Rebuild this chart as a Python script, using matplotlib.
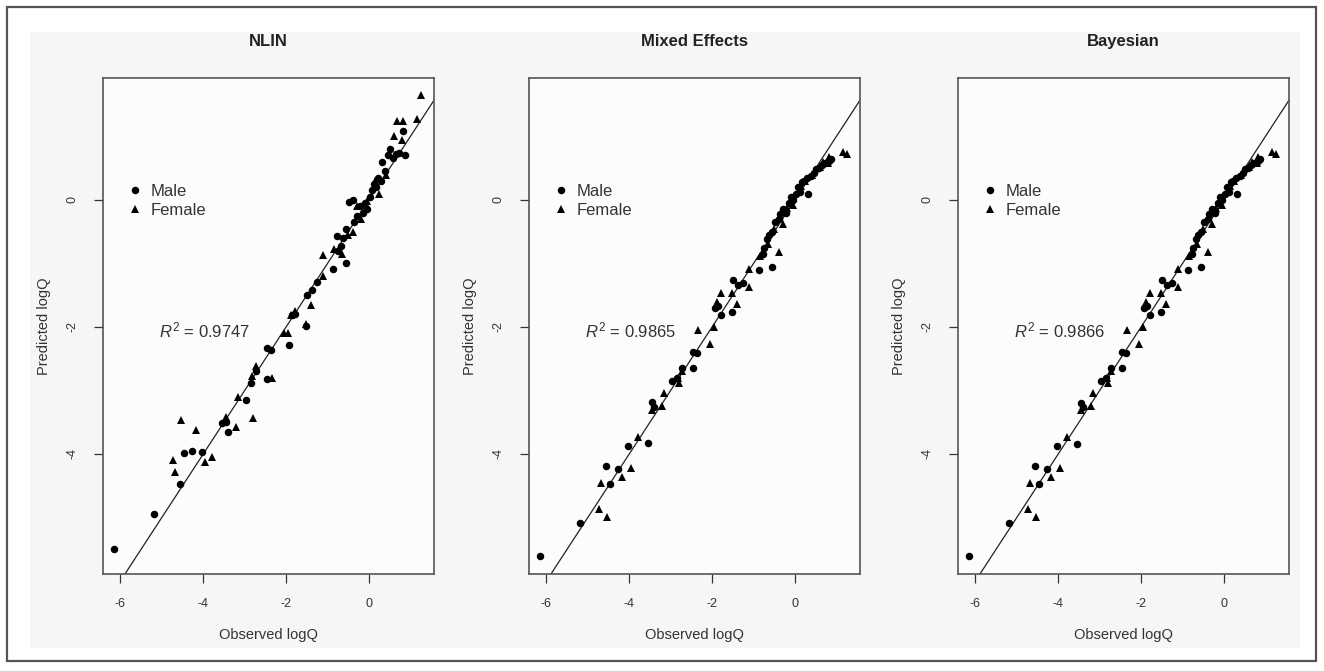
import matplotlib
matplotlib.use('Agg')
import matplotlib.pyplot as plt
from matplotlib.lines import Line2D
from matplotlib.patches import Rectangle

plt.rcParams['font.family'] = ['Liberation Sans', 'DejaVu Sans']
plt.rcParams['axes.unicode_minus'] = False
plt.rcParams['mathtext.fontset'] = 'custom'
plt.rcParams['mathtext.rm'] = 'Liberation Sans'
plt.rcParams['mathtext.it'] = 'Liberation Sans:italic'

titles = ['NLIN', 'Mixed Effects', 'Bayesian']
r2_labels = ['0.9747', '0.9865', '0.9866']
x_ticks = [-6, -4, -2, 0]
y_ticks = [-4, -2, 0]

# ---- Male (circles) ----
male_obs = [-6.15, -5.18, -4.57, -4.46, -4.27, -4.02, -3.55, -3.40, -3.45, -2.96,
            -2.84, -2.73, -2.45, -2.45, -2.36, -1.93, -1.78, -1.85, -1.51, -1.49,
            -1.38, -1.26, -0.86, -0.55, -0.78, -0.75, -0.68, -0.62, -0.55, -0.47,
            -0.39, -0.35, -0.28, -0.22, -0.15, -0.10, -0.05, 0.02, 0.08, 0.12,
            0.18, 0.22, 0.28, 0.32, 0.38, 0.45, 0.51, 0.58, 0.65, 0.72,
            0.81, 0.88]
male_nlin = [-5.49, -4.94, -4.47, -3.99, -3.95, -3.97, -3.52, -3.66, -3.50, -3.15,
             -2.89, -2.70, -2.82, -2.33, -2.36, -2.29, -1.80, -1.81, -1.98, -1.50,
             -1.42, -1.29, -1.08, -0.99, -0.56, -0.80, -0.72, -0.60, -0.45, -0.04,
             0.00, -0.35, -0.25, -0.10, -0.20, -0.05, -0.15, 0.05, 0.15, 0.25,
             0.20, 0.35, 0.30, 0.59, 0.45, 0.70, 0.80, 0.66, 0.72, 0.74,
             1.08, 0.70]
male_mixed = [-5.61, -5.09, -4.19, -4.48, -4.24, -3.87, -3.83, -3.26, -3.18, -2.85,
              -2.81, -2.65, -2.64, -2.40, -2.41, -1.70, -1.81, -1.67, -1.76, -1.26,
              -1.34, -1.31, -1.10, -1.06, -0.85, -0.75, -0.62, -0.55, -0.50, -0.35,
              -0.30, -0.22, -0.15, -0.20, -0.05, 0.05, 0.00, 0.10, 0.20, 0.12,
              0.28, 0.30, 0.35, 0.10, 0.38, 0.42, 0.48, 0.50, 0.55, 0.58,
              0.62, 0.65]
male_bayes = [-5.61, -5.09, -4.19, -4.48, -4.24, -3.87, -3.84, -3.26, -3.20, -2.85,
              -2.81, -2.65, -2.64, -2.40, -2.41, -1.70, -1.81, -1.67, -1.76, -1.26,
              -1.34, -1.31, -1.10, -1.06, -0.85, -0.75, -0.62, -0.55, -0.50, -0.35,
              -0.30, -0.22, -0.15, -0.20, -0.05, 0.05, 0.00, 0.10, 0.20, 0.12,
              0.28, 0.30, 0.35, 0.10, 0.38, 0.42, 0.48, 0.50, 0.55, 0.58,
              0.62, 0.65]

# ---- Female (triangles) ----
female_obs = [-4.73, -4.67, -4.54, -4.17, -3.95, -3.78, -3.45, -3.21, -3.15, -2.80,
              -2.83, -2.72, -2.34, -2.04, -1.95, -1.52, -1.88, -1.40, -1.10, -1.79,
              -1.11, -0.39, 1.26, 1.15, 0.83, 0.67, 0.61, 0.79, 0.40, 0.15,
              -0.05, -0.20, -0.30, -0.50, -0.65, 0.25, -0.85]
female_nlin = [-4.10, -4.29, -3.46, -3.62, -4.12, -4.05, -3.42, -3.58, -3.11, -3.44,
               -2.78, -2.62, -2.81, -2.09, -2.10, -1.95, -1.81, -1.65, -0.87, -1.75,
               -1.20, -0.50, 1.65, 1.28, 1.24, 1.24, 1.01, 0.94, 0.40, 0.30,
               -0.02, -0.30, -0.10, -0.55, -0.85, 0.10, -0.78]
female_mixed = [-4.87, -4.45, -5.00, -4.37, -4.22, -3.74, -3.30, -3.24, -3.04, -2.88,
                -2.81, -2.70, -2.05, -2.27, -2.00, -1.46, -1.60, -1.64, -1.09, -1.47,
                -1.37, -0.82, 0.73, 0.76, 0.68, 0.60, 0.52, 0.58, 0.40, 0.22,
                -0.08, -0.12, -0.38, -0.45, -0.70, 0.30, -0.88]
female_bayes = [-4.87, -4.45, -5.00, -4.37, -4.22, -3.74, -3.30, -3.24, -3.04, -2.88,
                -2.81, -2.70, -2.05, -2.27, -2.00, -1.46, -1.60, -1.64, -1.09, -1.47,
                -1.37, -0.82, 0.73, 0.76, 0.68, 0.60, 0.52, 0.58, 0.40, 0.22,
                -0.08, -0.12, -0.38, -0.45, -0.70, 0.30, -0.88]

male_pred = [male_nlin, male_mixed, male_bayes]
female_pred = [female_nlin, female_mixed, female_bayes]

W, H = 1324, 671
fig = plt.figure(figsize=(W / 100, H / 100), dpi=100, facecolor='white')

# faint scan background (behind axes) and outer frame
bg = Rectangle((30 / W, 1 - 648 / H), 1270 / W, 616 / H,
               transform=fig.transFigure, facecolor='#f6f6f6',
               edgecolor='none', zorder=-10)
fig.patches.append(bg)
frame = Rectangle((7 / W, 1 - 661 / H), 1309 / W, 654 / H,
                  transform=fig.transFigure, facecolor='none',
                  edgecolor='#555555', linewidth=1.6, zorder=-5)
fig.patches.append(frame)

lefts = [103, 529, 958]
ax_w = 331
top, bottom = 78, 574
xlim = (-6.42, 1.57)
ylim = (-5.89, 1.92)
text_col = '#333333'

for i in range(3):
    ax = fig.add_axes([lefts[i] / W, 1 - bottom / H, ax_w / W, (bottom - top) / H])
    ax.set_zorder(1)
    ax.set_facecolor('#fcfcfc')
    ax.set_xlim(*xlim)
    ax.set_ylim(*ylim)
    ax.plot(xlim, xlim, color='#222222', linewidth=0.9, zorder=2)
    ax.plot(male_obs, male_pred[i], 'o', color='black', markersize=5.4,
            markeredgewidth=0, zorder=3)
    ax.plot(female_obs, female_pred[i], '^', color='black', markersize=6.4,
            markeredgewidth=0, zorder=3)
    ax.set_xticks(x_ticks)
    ax.set_yticks(y_ticks)
    ax.tick_params(direction='out', length=6.5, width=0.9, colors=text_col,
                   labelsize=9, labelcolor=text_col)
    ax.tick_params(axis='x', pad=11)
    ax.tick_params(axis='y', pad=11, labelrotation=90)
    for lab in ax.get_yticklabels():
        lab.set_verticalalignment('center')
    for s in ax.spines.values():
        s.set_color('#555555')
        s.set_linewidth(1.2)
    ax.set_xlabel('Observed logQ', fontsize=10.5, color=text_col)
    ax.set_ylabel('Predicted logQ', fontsize=10.5, color=text_col)
    ax.xaxis.set_label_coords(0.5, -0.109)
    ax.yaxis.set_label_coords(-0.158, 0.5)
    ax.text(0.5, 1.073, titles[i], transform=ax.transAxes, ha='center',
            va='center', fontsize=12, fontweight='bold', color='#222222')
    ax.text(-5.08, -2.05, r'$R^2$' + ' = ' + r2_labels[i], ha='left', va='center',
            fontsize=12, color=text_col)
    handles = [Line2D([], [], marker='o', linestyle='none', color='black',
                      markersize=5.4, markeredgewidth=0),
               Line2D([], [], marker='^', linestyle='none', color='black',
                      markersize=6.4, markeredgewidth=0)]
    leg = ax.legend(handles, ['Male', 'Female'], loc='center left',
                    bbox_to_anchor=(0.0716, 0.752), frameon=False, borderpad=0,
                    borderaxespad=0, handlelength=1.0, handletextpad=0.45,
                    labelspacing=0.26, fontsize=12)
    for t in leg.get_texts():
        t.set_color(text_col)

fig.savefig('out.png', dpi=100, facecolor='white')
